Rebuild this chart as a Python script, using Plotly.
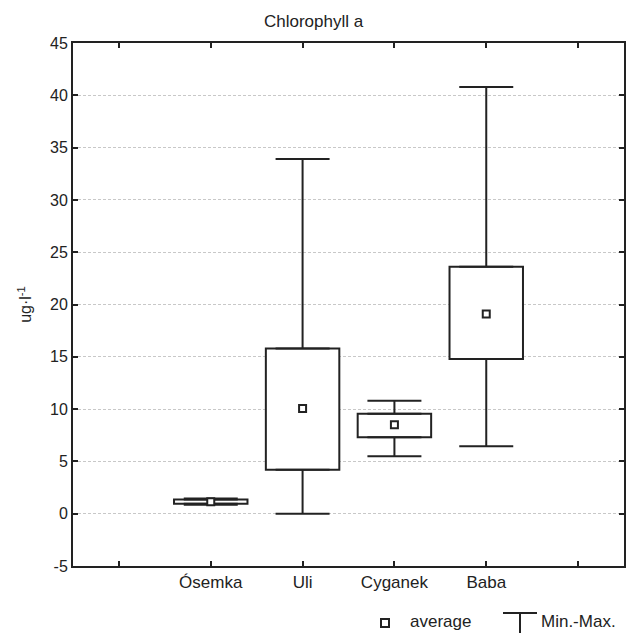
import plotly.graph_objects as go

# ---- data ----
categories = ["Ósemka", "Uli", "Cyganek", "Baba"]
positions = [1, 2, 3, 4]
minimum = [0.85, 0.0, 5.5, 6.45]
box_low = [0.95, 4.2, 7.3, 14.8]
average = [1.15, 10.05, 8.5, 19.1]
box_high = [1.35, 15.8, 9.55, 23.6]
maximum = [1.45, 33.9, 10.8, 40.8]

y_tickvals = [-5, 0, 5, 10, 15, 20, 25, 30, 35, 40, 45]
y_ticktext = ["-5", "0", "5", "10", "15", "20", "25", "30", "35", "40", "45"]
x_tickvals = [0, 1, 2, 3, 4, 5]
x_ticktext = [""] + categories + [""]

INK = "#222222"
FONT = "Liberation Sans, Arial, sans-serif"

fig = go.Figure()

# boxes
fig.add_trace(go.Bar(
    x=positions,
    base=box_low,
    y=[h - l for h, l in zip(box_high, box_low)],
    width=0.8,
    marker=dict(color="white", line=dict(color=INK, width=2)),
    showlegend=False, hoverinfo="skip",
))

# upper whiskers
fig.add_trace(go.Scatter(
    x=positions, y=box_high, mode="markers",
    marker=dict(size=1, color="rgba(0,0,0,0)"),
    error_y=dict(type="data", symmetric=False,
                 array=[m - h for m, h in zip(maximum, box_high)],
                 arrayminus=[0] * len(positions),
                 width=27, thickness=2, color=INK),
    showlegend=False, hoverinfo="skip",
))
# lower whiskers
fig.add_trace(go.Scatter(
    x=positions, y=box_low, mode="markers",
    marker=dict(size=1, color="rgba(0,0,0,0)"),
    error_y=dict(type="data", symmetric=False,
                 array=[0] * len(positions),
                 arrayminus=[l - m for l, m in zip(box_low, minimum)],
                 width=27, thickness=2, color=INK),
    showlegend=False, hoverinfo="skip",
))
# averages
fig.add_trace(go.Scatter(
    x=positions, y=average, mode="markers",
    marker=dict(symbol="square", size=7, color="white",
                line=dict(color=INK, width=2)),
    showlegend=False, hoverinfo="skip",
))

L, R, T, B = 73, 2, 43, 67
W, H = 626, 633
pw, ph = W - L - R, H - T - B

def px_x(p):
    return (p - L) / pw

def px_y(p):
    return (H - B - p) / ph

shapes = [
    # legend: average square
    dict(type="rect", xref="paper", yref="paper",
         xsizemode="pixel", ysizemode="pixel",
         xanchor=px_x(385), yanchor=px_y(623),
         x0=-4, x1=4, y0=-4, y1=4,
         line=dict(color=INK, width=2), fillcolor="white"),
    # legend: Min.-Max. T symbol
    dict(type="line", xref="paper", yref="paper",
         x0=px_x(503), x1=px_x(537), y0=px_y(613), y1=px_y(613),
         line=dict(color=INK, width=2)),
    dict(type="line", xref="paper", yref="paper",
         x0=px_x(520), x1=px_x(520), y0=px_y(613), y1=px_y(634),
         line=dict(color=INK, width=2)),
]

annotations = [
    dict(text="average", xref="paper", yref="paper", x=px_x(408), y=px_y(621),
         xanchor="left", yanchor="middle", showarrow=False,
         font=dict(family=FONT, size=17, color=INK)),
    dict(text="Min.-Max.", xref="paper", yref="paper", x=px_x(539), y=px_y(621),
         xanchor="left", yanchor="middle", showarrow=False,
         font=dict(family=FONT, size=17, color=INK)),
]

fig.update_layout(
    width=W, height=H,
    margin=dict(l=L, r=R, t=T, b=B, pad=0, autoexpand=False),
    paper_bgcolor="white", plot_bgcolor="white",
    font=dict(family=FONT, size=16, color=INK),
    title=dict(text="Chlorophyll a", x=px_x(349), xanchor="center",
               y=1 - 21 / H, yanchor="middle",
               font=dict(family=FONT, size=17, color=INK)),
    showlegend=False,
    shapes=shapes,
    annotations=annotations,
    bargap=0,
)

fig.update_xaxes(
    range=[-0.5, 5.5], automargin=False,
    tickmode="array", tickvals=x_tickvals, ticktext=x_ticktext,
    ticks="inside", ticklen=5, tickwidth=2, tickcolor=INK,
    showline=True, linewidth=2, linecolor=INK, mirror="ticks",
    showgrid=False, zeroline=False,
    tickfont=dict(family=FONT, size=17, color=INK),
)
fig.update_yaxes(
    range=[-5, 45], automargin=False,
    tickmode="array", tickvals=y_tickvals, ticktext=y_ticktext,
    ticks="inside", ticklen=5, tickwidth=2, tickcolor=INK,
    showline=True, linewidth=2, linecolor=INK, mirror="ticks",
    showgrid=True, gridcolor="#c8c8c8", gridwidth=1, griddash="3px,2px",
    zeroline=False,
    tickfont=dict(family=FONT, size=16, color=INK),
    title=dict(text="ug·l<sup>-1</sup>", standoff=14,
               font=dict(family=FONT, size=16, color=INK)),
)

fig.write_html(
    "out.html",
    config={"displayModeBar": False, "staticPlot": True},
    post_script="document.body.style.margin='0';document.body.style.overflow='hidden';",
)
